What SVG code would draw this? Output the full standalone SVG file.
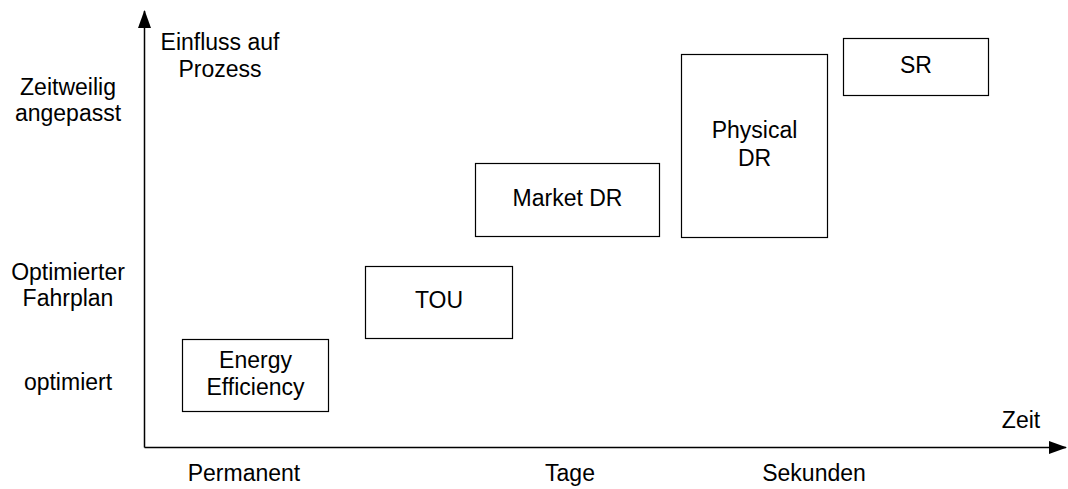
<svg xmlns="http://www.w3.org/2000/svg" width="1068" height="489" viewBox="0 0 1068 489">
<style>
text{font-family:"Liberation Sans",Arial,sans-serif;font-size:23px;fill:#000;text-anchor:middle}
.box{fill:#fff;stroke:#000;stroke-width:1.2}
.axis{stroke:#000;stroke-width:1.5;fill:none}
</style>
<defs>
<marker id="arr" markerWidth="18" markerHeight="13" refX="17" refY="6.5" orient="auto" markerUnits="userSpaceOnUse" viewBox="0 0 18 13"><path d="M0,0 L18,6.5 L0,13 Z" fill="#000"/></marker>
</defs>
<g id="connectors">
<line class="axis" x1="144.5" y1="447.5" x2="144.5" y2="11" marker-end="url(#arr)"/>
<line class="axis" x1="144.5" y1="447.5" x2="1066" y2="447.5" marker-end="url(#arr)"/>
</g>
<g id="axis-labels">
<text x="220" y="50">Einfluss auf</text>
<text x="220" y="77">Prozess</text>
<text x="68" y="95">Zeitweilig</text>
<text x="68" y="121">angepasst</text>
<text x="68" y="280">Optimierter</text>
<text x="68" y="306">Fahrplan</text>
<text x="68" y="390">optimiert</text>
<text x="1021" y="428">Zeit</text>
<text x="244" y="481">Permanent</text>
<text x="570" y="481">Tage</text>
<text x="814" y="481">Sekunden</text>
</g>
<g id="energy-efficiency">
<rect class="box" x="182.5" y="339.5" width="146" height="72"/>
<text x="255.5" y="368">Energy</text>
<text x="255.5" y="395">Efficiency</text>
</g>
<g id="tou">
<rect class="box" x="365.5" y="266.5" width="147" height="72"/>
<text x="439" y="308">TOU</text>
</g>
<g id="market-dr">
<rect class="box" x="475.5" y="163.5" width="184" height="73"/>
<text x="567.5" y="206">Market DR</text>
</g>
<g id="physical-dr">
<rect class="box" x="681.5" y="54.5" width="146" height="183"/>
<text x="754.5" y="138">Physical</text>
<text x="754.5" y="166">DR</text>
</g>
<g id="sr">
<rect class="box" x="843.5" y="38.5" width="145" height="57"/>
<text x="916" y="73">SR</text>
</g>
</svg>
